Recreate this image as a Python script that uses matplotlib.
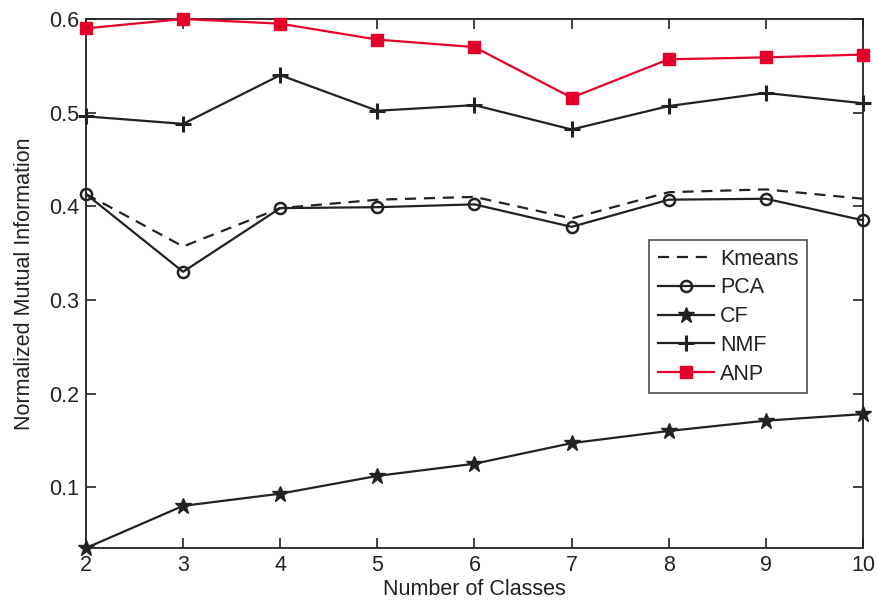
import matplotlib
matplotlib.use("Agg")
import matplotlib.pyplot as plt

plt.rcParams['font.family'] = ['Liberation Sans', 'DejaVu Sans']

classes = [2, 3, 4, 5, 6, 7, 8, 9, 10]
kmeans = [0.413, 0.357, 0.398, 0.407, 0.410, 0.387, 0.415, 0.418, 0.408]
pca = [0.413, 0.330, 0.398, 0.399, 0.402, 0.378, 0.407, 0.408, 0.385]
cf = [0.035, 0.080, 0.093, 0.112, 0.125, 0.147, 0.160, 0.171, 0.178]
nmf = [0.496, 0.488, 0.540, 0.502, 0.508, 0.482, 0.507, 0.521, 0.510]
anp = [0.590, 0.600, 0.595, 0.578, 0.570, 0.516, 0.557, 0.559, 0.562]

xticks = [2, 3, 4, 5, 6, 7, 8, 9, 10]
yticks = [0.1, 0.2, 0.3, 0.4, 0.5, 0.6]
ytick_labels = ['0.1', '0.2', '0.3', '0.4', '0.5', '0.6']

fig = plt.figure(figsize=(8.79, 6.01), dpi=100)
ax = fig.add_axes([0.0978, 0.0882, 0.8840, 0.8802])

dark = '#222222'
red = '#e4002b'
lw = 1.6

ax.plot(classes, kmeans, '--', color=dark, lw=lw, dashes=(5, 3.5), label='Kmeans', clip_on=False)
ax.plot(classes, pca, '-', color=dark, lw=lw, marker='o', markersize=8, markerfacecolor='none',
        markeredgewidth=1.8, label='PCA', clip_on=False)
ax.plot(classes, cf, '-', color=dark, lw=lw, marker='*', markersize=12, label='CF', clip_on=False)
ax.plot(classes, nmf, '-', color=dark, lw=lw, marker='+', markersize=12, markeredgewidth=2.2,
        label='NMF', clip_on=False)
ax.plot(classes, anp, '-', color=red, lw=lw, marker='s', markersize=9, markerfacecolor=red,
        markeredgecolor=red, label='ANP', clip_on=False, zorder=5)

ax.set_xlim(2, 10)
ax.set_ylim(0.035, 0.6)
ax.set_xticks(xticks)
ax.set_yticks(yticks)
ax.set_yticklabels(ytick_labels)

for s in ax.spines.values():
    s.set_linewidth(1.3)
    s.set_color(dark)

ax.tick_params(direction='in', length=7, width=1.2, top=True, right=True,
               labelsize=15.5, colors=dark, pad=5)

ax.set_xlabel('Number of Classes', fontsize=15.5, color=dark, labelpad=2)
ax.set_ylabel('Normalized Mutual Information', fontsize=15.5, color=dark, labelpad=10)

leg = ax.legend(loc='upper left', bbox_to_anchor=(0.7246, 0.582), fontsize=15.5,
                frameon=True, fancybox=False, edgecolor=dark, handlelength=2.6,
                handletextpad=0.3, borderpad=0.4, labelspacing=0.36, borderaxespad=0)
leg.get_frame().set_linewidth(1.2)
for t in leg.get_texts():
    t.set_color(dark)

fig.savefig('out.png', dpi=100)
